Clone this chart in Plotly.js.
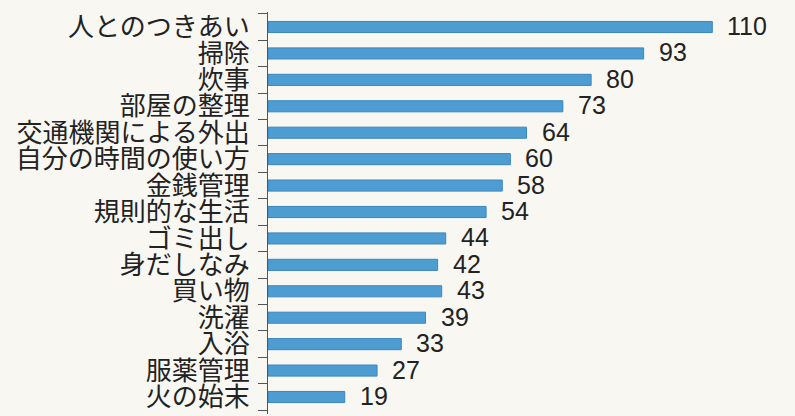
<!DOCTYPE html>
<html>
<head>
<meta charset="utf-8">
<script src="https://cdn.plot.ly/plotly-3.0.1.min.js"></script>
<style>
html,body{margin:0;padding:0;background:#f8f7f2;}
#chart{width:795px;height:416px;}
</style>
</head>
<body>
<div id="chart"></div>
<script>
const categories = ["人とのつきあい","掃除","炊事","部屋の整理","交通機関による外出","自分の時間の使い方","金銭管理","規則的な生活","ゴミ出し","身だしなみ","買い物","洗濯","入浴","服薬管理","火の始末"];
const values = [110,93,80,73,64,60,58,54,44,42,43,39,33,27,19];

const bars = {
  type: 'bar',
  orientation: 'h',
  y: categories,
  x: values,
  marker: {color: '#4d9dd3', line: {color: '#3b86bd', width: 1}},
  hoverinfo: 'none'
};

const annotations = values.map((v, i) => ({
  x: v, y: categories[i], xref: 'x', yref: 'y',
  text: String(v), showarrow: false,
  xanchor: 'left', yanchor: 'middle', xshift: 13, yshift: 1,
  font: {family: '"Liberation Sans", Arial, sans-serif', size: 25, color: '#222'}
}));

const layout = {
  width: 795, height: 416,
  paper_bgcolor: '#f8f7f2', plot_bgcolor: '#f8f7f2',
  margin: {l: 268, r: 10, t: 12, b: 2},
  showlegend: false,
  bargap: 0.58,
  xaxis: {range: [0, 128], visible: false, fixedrange: true},
  yaxis: {
    type: 'category', autorange: 'reversed',
    tickmode: 'array', tickvals: categories, ticktext: categories,
    showline: true, linecolor: '#555', linewidth: 1,
    ticks: 'outside', tickson: 'boundaries', ticklen: 9, tickcolor: '#555', tickwidth: 1,
    ticklabelstandoff: 12,
    showgrid: false, zeroline: false,
    tickfont: {family: '"Noto Sans CJK JP", sans-serif', size: 26, color: '#222'}
  },
  annotations: annotations
};

Plotly.newPlot('chart', [bars], layout, {displayModeBar: false, staticPlot: true});
</script>
</body>
</html>
